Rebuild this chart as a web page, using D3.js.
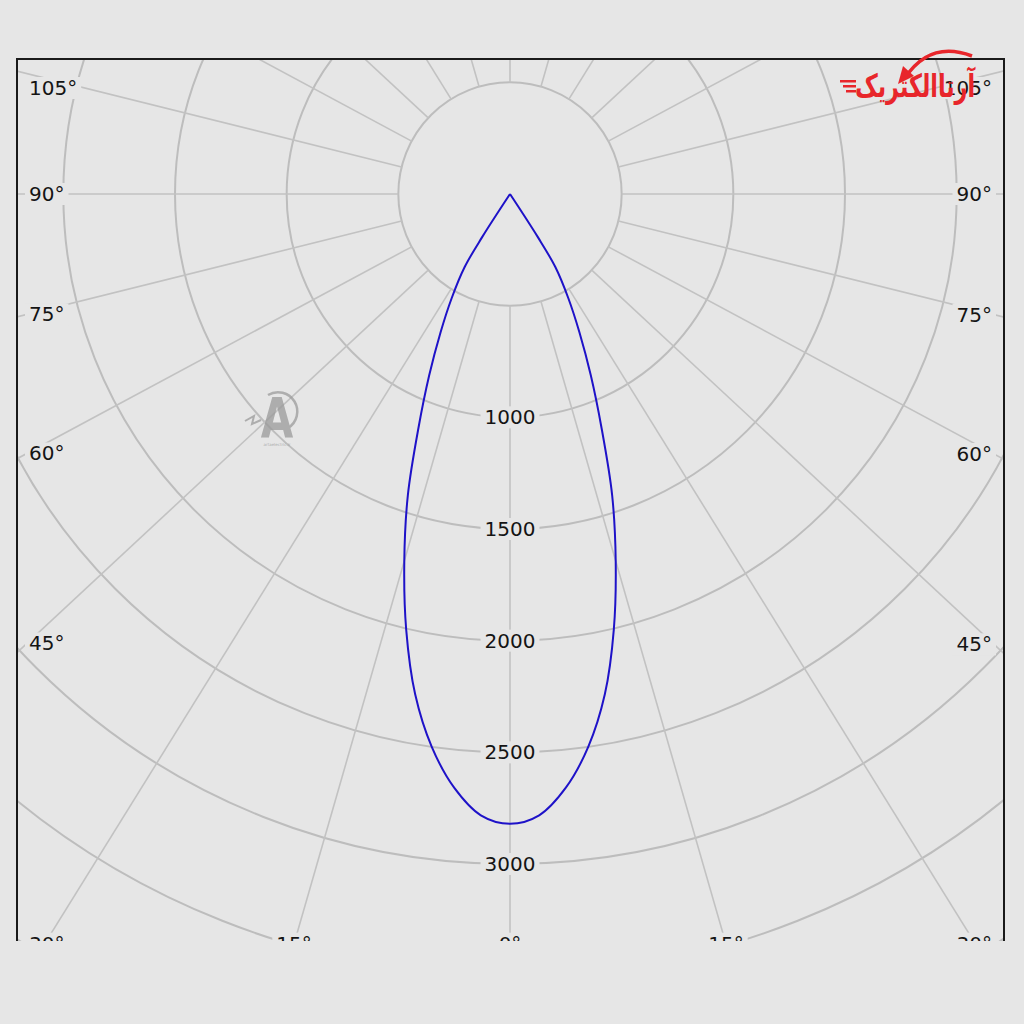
<!DOCTYPE html>
<html>
<head>
<meta charset="utf-8">
<script src="https://cdnjs.cloudflare.com/ajax/libs/d3/7.8.5/d3.min.js"></script>
<style>
  body { margin: 0; background: #e6e6e6; }
  svg { display: block; }
  text { font-family: 'DejaVu Sans', Verdana, sans-serif; }
</style>
</head>
<body>
<script>
/* global d3 */
(function () {
  'use strict'

  // luminous intensity (cd) of the C0-C180 plane
  var angles = [-32.5, -31, -30, -27.5, -25, -22.5, -20, -17.5, -15, -12.5, -10, -7.5, -5, -2.5,
    0, 2.5, 5, 7.5, 10, 12.5, 15, 17.5, 20, 22.5, 25, 27.5, 30, 31, 32.5]
  var intensity = [0, 230, 385, 535, 695, 890, 1125, 1425, 1710, 2005, 2280, 2500, 2670, 2785,
    2820, 2785, 2670, 2500, 2280, 2005, 1710, 1425, 1125, 890, 695, 535, 385, 230, 0]

  // grid
  var rings = [500, 1000, 1500, 2000, 2500, 3000, 3500, 4000, 4500]
  var ringLabels = [1000, 1500, 2000, 2500, 3000, 3500]
  var spokes = [0, 15, 30, 45, 60, 75, 90, 105, 120, 135, 150, 165, 180,
    195, 210, 225, 240, 255, 270, 285, 300, 315, 330, 345]
  var angleLabels = [-105, -90, -75, -60, -45, -30, -15, 0, 15, 30, 45, 60, 75, 90, 105]

  var dim = { w: 1024, h: 1024 }
  var frame = { left: 17, top: 59, right: 1004, bottom: 959, crop: 941 }
  var center = { x: 510, y: 194 }
  var stretch = 1.075 // the angle lines of the original are drawn slightly wider

  var r = d3.scaleLinear().domain([0, 3000]).range([0, 670])

  var colors = {
    bg: '#e6e6e6',
    ring: '#bdbdbd',
    spoke: '#c2c2c2',
    curve: '#1e12c8',
    text: '#141414'
  }

  var svg = d3.select('body').append('svg')
    .attr('width', dim.w)
    .attr('height', dim.h)

  svg.append('rect')
    .attr('width', dim.w)
    .attr('height', dim.h)
    .attr('fill', colors.bg)

  var defs = svg.append('defs')
  defs.append('clipPath').attr('id', 'plot-clip')
    .append('rect')
      .attr('x', frame.left)
      .attr('y', frame.top)
      .attr('width', frame.right - frame.left)
      .attr('height', frame.crop - frame.top)
  defs.append('clipPath').attr('id', 'crop-clip')
    .append('rect')
      .attr('width', dim.w)
      .attr('height', frame.crop)

  var outer = svg.append('g').attr('clip-path', 'url(#crop-clip)')
  var plot = outer.append('g').attr('clip-path', 'url(#plot-clip)')
  var chart = plot.append('g')
    .attr('transform', 'translate(' + center.x + ',' + center.y + ')')

  plotGrid(chart)
  plotCurve(chart)
  plotRingLabels(chart)
  plotAngleLabels(plot)

  outer.append('rect')
    .attr('x', frame.left)
    .attr('y', frame.top)
    .attr('width', frame.right - frame.left)
    .attr('height', frame.bottom - frame.top)
    .attr('fill', 'none')
    .attr('stroke', '#1a1a1a')
    .attr('stroke-width', 2)

  drawWatermark(svg)
  drawLogo(svg)

  function warp (deg) {
    var t = deg * Math.PI / 180
    return Math.atan2(stretch * Math.sin(t), Math.cos(t))
  }

  function plotGrid (ctx) {
    ctx.selectAll('.ring').data(rings)
      .enter().append('circle')
        .attr('class', 'ring')
        .attr('r', function (d) { return r(d) })
        .attr('fill', 'none')
        .attr('stroke', colors.ring)
        .attr('stroke-width', 2)

    ctx.selectAll('.spoke').data(spokes)
      .enter().append('line')
        .attr('class', 'spoke')
        .attr('x1', function (d) { return r(rings[0]) * Math.sin(warp(d)) })
        .attr('y1', function (d) { return r(rings[0]) * Math.cos(warp(d)) })
        .attr('x2', function (d) { return r(d3.max(rings)) * Math.sin(warp(d)) })
        .attr('y2', function (d) { return r(d3.max(rings)) * Math.cos(warp(d)) })
        .attr('stroke', colors.spoke)
        .attr('stroke-width', 1.6)
  }

  function plotCurve (ctx) {
    var points = angles.map(function (a, i) { return { angle: a, value: intensity[i] } })
    var line = d3.lineRadial()
      .angle(function (d) { return Math.PI - warp(d.angle) })
      .radius(function (d) { return r(d.value) })
      .curve(d3.curveCatmullRom.alpha(0.5))

    ctx.append('path')
      .datum(points)
      .attr('d', line)
      .attr('fill', 'none')
      .attr('stroke', colors.curve)
      .attr('stroke-width', 2)
      .attr('stroke-linejoin', 'round')
  }

  function addLabel (ctx, txt, pos) {
    var g = ctx.append('g')
    var bg = g.append('rect').attr('fill', colors.bg)
    var t = g.append('text')
      .attr('text-anchor', 'middle')
      .attr('dominant-baseline', 'central')
      .attr('font-size', 20)
      .attr('fill', colors.text)
      .text(txt)
    var box = t.node().getBBox()
    var p = pos(box.width, box.height)
    t.attr('x', p[0]).attr('y', p[1])
    bg.attr('x', p[0] - box.width / 2 - 4)
      .attr('y', p[1] - box.height / 2 + 1)
      .attr('width', box.width + 8)
      .attr('height', box.height - 2)
  }

  function plotRingLabels (ctx) {
    ringLabels.forEach(function (v) {
      addLabel(ctx, String(v), function () { return [0, r(v)] })
    })
  }

  function plotAngleLabels (ctx) {
    angleLabels.forEach(function (deg) {
      addLabel(ctx, Math.abs(deg) + '°', function (w) {
        var phi = warp(deg)
        var dx = Math.sin(phi)
        var dy = Math.cos(phi)
        var ts = []
        if (dx < -1e-9) ts.push((frame.left - center.x) / dx)
        if (dx > 1e-9) ts.push((frame.right - center.x) / dx)
        if (dy > 1e-9) ts.push((frame.bottom - center.y) / dy)
        if (dy < -1e-9) ts.push((frame.top - center.y) / dy)
        var t = d3.min(ts) * 0.98
        var x = center.x + t * dx
        var y = center.y + t * dy
        x = Math.max(frame.left + 12 + w / 2, Math.min(frame.right - 12 - w / 2, x))
        y = Math.max(frame.top + 29, y)
        return [x, y]
      })
    })
  }

  function drawWatermark (ctx) {
    var g = ctx.append('g').attr('opacity', 0.75)
    g.append('path')
      .attr('d', 'M 268 395 A 17 17 0 1 1 288 428')
      .attr('fill', 'none')
      .attr('stroke', '#9c9c9c')
      .attr('stroke-width', 2.5)
    g.append('text')
      .attr('transform', 'translate(277,437) scale(0.75,1)')
      .attr('text-anchor', 'middle')
      .attr('font-size', 56)
      .attr('font-weight', 'bold')
      .attr('fill', '#9a9a9a')
      .text('A')
    g.append('path')
      .attr('d', 'M 245 421 L 254 416 L 252 424 L 261 420')
      .attr('fill', 'none')
      .attr('stroke', '#9a9a9a')
      .attr('stroke-width', 2)
    g.append('text')
      .attr('x', 277)
      .attr('y', 446)
      .attr('text-anchor', 'middle')
      .attr('font-size', 4)
      .attr('fill', '#9a9a9a')
      .text('artaelectric.ir')
  }

  function drawLogo (ctx) {
    var red = '#e8262b'
    var g = ctx.append('g')
    g.append('path')
      .attr('d', 'M 905 78 Q 930 40 972 56')
      .attr('fill', 'none')
      .attr('stroke', red)
      .attr('stroke-width', 3.5)
    g.append('path')
      .attr('d', 'M 898 84 L 903 66 L 914 76 Z')
      .attr('fill', red)
    g.append('text')
      .attr('x', 915)
      .attr('y', 97)
      .attr('text-anchor', 'middle')
      .attr('font-size', 32)
      .attr('font-weight', 'bold')
      .attr('fill', red)
      .attr('textLength', 120)
      .attr('lengthAdjust', 'spacingAndGlyphs')
      .text('آرتاالکتریک')
    g.selectAll('.speed').data([0, 1, 2])
      .enter().append('rect')
        .attr('class', 'speed')
        .attr('x', function (d) { return 840 + d * 3 })
        .attr('y', function (d) { return 80 + d * 5 })
        .attr('width', function (d) { return 16 - d * 3 })
        .attr('height', 2.5)
        .attr('fill', red)
  }
}())
</script>
</body>
</html>
